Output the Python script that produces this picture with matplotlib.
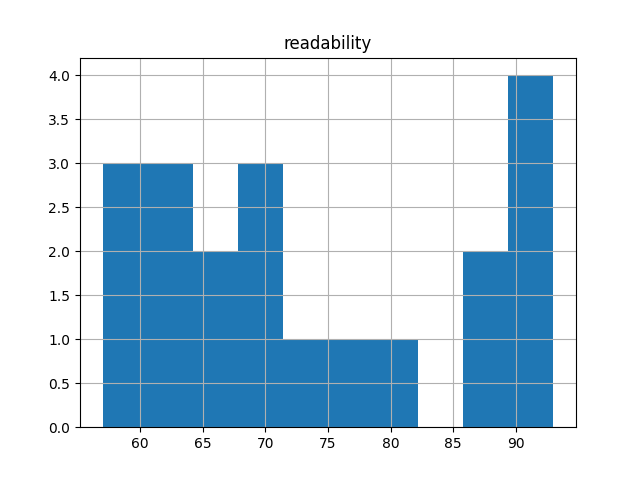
import matplotlib
matplotlib.use("Agg")
import pandas as pd
import matplotlib.pyplot as plt

# readability scores (10 bins, 57..93)
readability = [57, 59, 60, 61, 62, 63, 65, 67, 68, 69,
               70, 73, 76, 80, 87, 88, 90, 91, 92, 93]

df = pd.DataFrame({'readability': readability})

fig, ax = plt.subplots(figsize=(6.4, 4.8), dpi=100)
df.hist(column='readability', bins=10, ax=ax)

plt.savefig('out.png')
